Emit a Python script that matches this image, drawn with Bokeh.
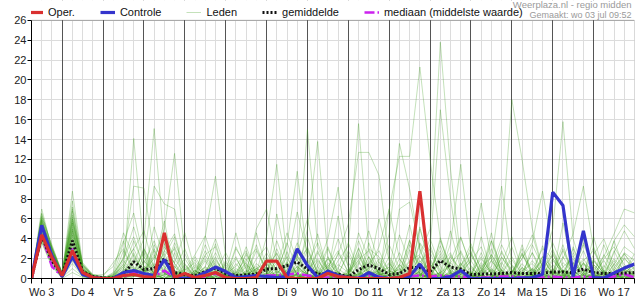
from bokeh.plotting import figure
from bokeh.models import (Range1d, FixedTicker, SingleIntervalTicker, Grid, Legend,
                          LegendItem, Label, ColumnDataSource, BoxAnnotation)
from bokeh.embed import file_html
from bokeh.resources import INLINE

# 6-hourly steps, step 0 = wo 3 jul 06:00, last step = do 18 jul 00:00
DAYS = ["Wo 3", "Do 4", "Vr 5", "Za 6", "Zo 7", "Ma 8", "Di 9", "Wo 10",
        "Do 11", "Vr 12", "Za 13", "Zo 14", "Ma 15", "Di 16", "Wo 17"]
STEPS_PER_DAY = 4
FIRST_MIDNIGHT = 3   # step of do 4 00:00
Y_TICKS = list(range(0, 27, 2))
Y_MAX = 26

OPER = [0, 4.4, 2.1, 0.3, 2.8, 0.6, 0.1, 0, 0, 0.3,
        0.4, 0.2, 0.1, 4.6, 0.1, 0.5, 0.1, 0.3, 0.6, 0.1,
        0, 0, 0.1, 1.75, 1.75, 0.1, 0, 0, 0, 0.5,
        0.2, 0.1, 0, 0, 0, 0, 0.1, 0.5, 8.8, 0]

CONTROLE = [0, 5.35, 2.3, 0.2, 2.2, 0.4, 0.1, 0, 0, 0.6,
            0.8, 0.5, 0.3, 1.9, 0.1, 0, 0.1, 0.6, 1.15, 0.7,
            0.1, 0.2, 0.3, 0.2, 0.1, 0.2, 3.0, 1.3, 0.1, 0.75,
            0.3, 0.1, 0, 0.6, 0.1, 0, 0, 0.2, 1.45, 0,
            0, 0.2, 0.8, 0, 0, 0, 0, 0, 0.05, 0.1,
            0.4, 8.7, 7.35, 0.2, 4.8, 0.1, 0.05, 0.55, 1.05, 1.45]

GEMIDDELDE = [0, 4.3, 1.8, 0.3, 3.8, 0.7, 0.2, 0.05, 0.05, 0.4,
              1.7, 0.9, 1.0, 2.0, 0.6, 0.4, 0.3, 0.7, 1.05, 0.5,
              0.3, 0.35, 0.45, 0.95, 1.0, 1.3, 1.65, 0.95, 0.45, 0.5,
              0.45, 0.15, 0.9, 1.35, 1.0, 0.4, 0.5, 1.1, 1.1, 0.7,
              1.8, 1.15, 0.95, 0.4, 0.45, 0.45, 0.5, 0.6, 0.5, 0.5,
              0.55, 0.65, 0.65, 0.6, 0.95, 0.6, 0.5, 0.5, 0.55, 0.6]

MEDIAAN = [0, 4.4, 1.2, 0.2, 3.0, 0.4, 0.05, 0, 0, 0.1,
           0.7, 0.2, 0.2, 0.8, 0.1, 0.05, 0.05, 0.2, 0.5, 0.1,
           0, 0.05, 0.1, 0.3, 0.3, 0.4, 0.5, 0.3, 0.1, 0.1,
           0.1, 0, 0.1, 0.3, 0.2, 0.05, 0.1, 0.2, 0.3, 0.2,
           0.3, 0.2, 0.2, 0.05, 0.1, 0.1, 0.2, 0.2, 0.1, 0.1,
           0.1, 0.2, 0.1, 0.1, 0.2, 0.1, 0.1, 0.2, 0.45, 0.1]

LEDEN = [
    [0, 4.6, 2.2, 0.3, 3.0, 0.4, 0.1, 0, 0, 0.8, 14.1, 3.0, 1.2, 2.5, 0.4, 0.2, 0, 0.6, 1.8,
     0.5, 0, 0, 0.3, 1.2, 2.5, 0.4, 0, 0, 0.8, 3.2, 0.5, 0, 0, 1.5, 2.8, 0.6, 0, 0.2, 1.0,
     0, 0.4, 2.2, 0.8, 0, 0, 0.5, 1.6, 0.3, 0, 0, 0.9, 2.4, 0.6, 0, 0, 0.5, 1.8, 0.3, 0, 0.2],
    [0, 5.8, 2.6, 0.4, 5.2, 1.0, 0.2, 0, 0.1, 0.3, 1.6, 4.0, 15.1, 3.5, 0.6, 0, 0.3, 1.1, 0.4,
     0, 0.6, 2.0, 0.2, 0, 0, 0.9, 3.6, 1.0, 0.2, 0, 0, 0.4, 2.6, 0.3, 0, 0, 1.4, 0.5, 0,
     3.0, 0.8, 0, 0.2, 0.6, 2.2, 0.4, 0, 0, 0.8, 1.5, 0.3, 0, 0, 0.6, 2.8, 0.4, 0, 0, 1.2, 0.5],
    [0, 4.2, 1.8, 0.2, 2.4, 0.3, 0, 0, 0, 1.5, 3.0, 0.8, 2.0, 5.0, 12.6, 2.5, 0.4, 0, 0.3,
     1.4, 0.2, 0, 0, 0.6, 1.8, 0.5, 0.9, 4.2, 0.6, 0, 0.3, 0, 0.5, 0, 1.7, 0.3, 0, 2.9, 0.4,
     0, 0, 0.7, 4.1, 1.3, 0, 0, 0.5, 1.9, 0.4, 0, 0, 0.7, 3.4, 0.2, 0, 0, 0.6, 2.0, 0.8, 0],
    [0, 6.5, 3.2, 0.6, 7.2, 1.2, 0.3, 0.1, 0, 2.2, 9.3, 9.1, 2.4, 0.5, 0, 0, 0.8, 0.2, 3.5,
     0.4, 0, 0.7, 1.2, 0, 0.3, 0, 0.5, 2.0, 0.4, 1.2, 0, 0, 3.1, 0.6, 0, 1.5, 0.2, 0, 0.6,
     0, 2.5, 0.3, 0, 0.2, 0, 3.8, 0.6, 0, 0.4, 0.9, 0, 0.3, 0, 1.3, 4.0, 0.8, 0, 0.4, 0, 0.6],
    [0, 5.0, 2.0, 0.1, 4.0, 0.6, 0.1, 0, 0.2, 0, 0.7, 1.5, 3.8, 1.0, 0.2, 0.6, 0, 4.2, 10.3,
     2.2, 0.3, 0, 0.4, 1.6, 0, 0.2, 2.4, 0.3, 0, 0, 1.0, 3.6, 0.8, 0, 0, 0.4, 0.9, 0, 0.3,
     1.8, 0, 0, 0.6, 0, 1.1, 0.2, 0, 0.5, 2.6, 0.4, 0, 0, 0.8, 0, 0.4, 1.4, 0.3, 0, 2.1, 0.8],
    [0, 3.8, 1.5, 0, 1.8, 0.2, 0, 0, 0, 0.4, 2.4, 0.5, 0.2, 1.6, 0.7, 0, 0, 0.9, 0.2,
     0, 1.5, 0.3, 0.6, 4.2, 11.5, 2.0, 0.5, 0, 0.6, 1.4, 0, 0.2, 0, 0.8, 0.3, 0, 0.3, 1.7, 0,
     0.5, 0, 0, 1.3, 2.7, 0.4, 0, 0, 0, 0, 0.6, 1.2, 0.4, 0, 0, 0.5, 3.2, 0.6, 0, 0, 0.3],
    [0, 5.3, 2.9, 0.5, 6.0, 1.4, 0.4, 0.2, 0, 0.6, 1.2, 0.2, 0, 2.8, 4.5, 0.7, 0, 0, 1.1,
     0.3, 0, 2.6, 0.4, 0, 0.8, 3.4, 10.8, 1.8, 0.2, 0, 0, 0.6, 1.8, 0, 0.4, 0, 0, 0.5, 2.3,
     0.2, 0.6, 4.8, 0.9, 0, 0.3, 0, 0, 1.0, 0, 0.3, 3.3, 0.5, 0, 0.8, 0, 0, 2.4, 0.7, 0, 0],
    [0, 4.0, 2.0, 0.2, 2.0, 0.3, 0, 0, 0.3, 1.0, 0.2, 2.2, 0.4, 0, 0.8, 0.2, 1.9, 0.3, 0,
     0, 0, 0.4, 1.0, 0.3, 3.0, 0.6, 2.0, 15.0, 3.2, 0.8, 0, 0, 0.4, 1.6, 0.5, 0, 0.2, 0, 3.5,
     0.8, 0, 0.5, 0, 0, 1.2, 2.1, 0.3, 0, 0, 0.4, 0, 1.8, 0.6, 0, 0.3, 0, 0, 1.1, 2.5, 1.2],
    [0, 6.0, 3.0, 0.4, 8.8, 1.5, 0.3, 0, 0, 0, 0.5, 0.3, 1.4, 0.5, 0, 0, 0.4, 0, 0.6,
     1.2, 0.3, 0.5, 0, 0, 0.6, 1.2, 0.4, 5.0, 13.8, 2.2, 0.6, 0, 0, 0.3, 0.8, 1.1, 0, 0, 0.4,
     0, 2.0, 0.8, 0, 0.4, 0, 1.0, 0, 0.6, 0.2, 0, 1.6, 0, 0.4, 3.0, 0.6, 0, 0.8, 0, 0.4, 1.6],
    [0, 4.4, 1.6, 0.1, 3.5, 0.5, 0.1, 0, 0.1, 2.8, 0.6, 0, 0.8, 3.2, 1.5, 0, 0.2, 1.8, 0.2,
     0.4, 2.2, 0, 0, 0.5, 0, 2.7, 0.3, 0, 1.2, 4.0, 9.2, 1.6, 0, 0, 0.3, 0.8, 0.3, 0, 0,
     0.2, 0, 1.6, 2.6, 0.3, 0, 0.2, 0.8, 0, 1.5, 0.3, 0, 0, 0.2, 0, 1.4, 0.4, 0, 0.5, 0, 0],
    [0, 5.5, 2.3, 0.3, 4.8, 0.8, 0.2, 0, 0, 0.2, 1.0, 0.4, 2.8, 1.2, 0.3, 1.0, 0.2, 0, 0.6,
     0, 0, 1.2, 0.3, 0, 2.1, 0.5, 0, 0.9, 0.2, 0, 1.8, 3.3, 15.6, 3.0, 0.4, 0, 0.6, 0, 0.7,
     1.5, 0.2, 0, 0, 0, 0.8, 2.4, 0.5, 0, 0, 1.0, 0.3, 2.0, 0.3, 0, 0, 0.6, 0, 1.5, 0.4, 0],
    [0, 4.9, 2.7, 0.3, 5.6, 0.9, 0.2, 0, 0, 0.9, 3.8, 1.2, 0.6, 0.2, 0, 0, 0.6, 2.3, 0.8,
     0, 0.4, 0, 1.5, 0.6, 0, 0.3, 0, 1.2, 0, 0.6, 2.4, 5.5, 12.7, 12.7, 10.4, 2.0, 0.3, 0, 0.2,
     0, 0.6, 1.3, 0, 0.5, 0, 0, 2.1, 0.8, 0, 0.3, 0, 0, 1.2, 0.2, 0, 0.4, 0, 0, 0.9, 2.0],
    [0, 3.6, 1.2, 0, 0.6, 0.1, 0, 0, 0.2, 0.5, 0.8, 2.6, 0.3, 0, 0.4, 0.3, 0, 0.5, 2.6,
     0.6, 0, 0, 0.2, 2.2, 0.4, 0, 1.6, 0.5, 0, 2.0, 0.4, 0, 0, 0.3, 0.8, 4.5, 13.6, 9.0, 3.0,
     0, 0.4, 0, 1.5, 0.2, 2.6, 0.4, 0, 0, 0, 0.7, 1.8, 0.6, 0, 0.2, 0, 1.8, 0.5, 0, 0.3, 0.5],
    [0, 5.1, 2.1, 0.2, 4.2, 0.7, 0.1, 0, 0, 0, 0.4, 0.9, 0.2, 1.8, 3.0, 0.4, 0, 0.2, 0,
     0, 1.0, 0.4, 0, 0.3, 1.6, 0, 0.5, 2.8, 0.6, 0, 0, 0.5, 2.2, 0.4, 0, 7.0, 12.3, 12.3, 21.3,
     12.0, 4.0, 0.6, 0, 1.2, 0, 0.5, 0.9, 0, 2.5, 0.3, 0, 0, 0.4, 0, 1.6, 0.2, 0, 0.9, 0.3, 0],
    [0, 6.2, 3.4, 0.5, 6.8, 1.1, 0.2, 0, 0.4, 1.2, 0.3, 0, 1.0, 4.0, 0.8, 0, 0.3, 0.8, 0,
     0.4, 0, 0.3, 2.8, 0.8, 0, 0, 0.4, 1.4, 0.2, 0, 0.7, 0, 0.3, 2.2, 0.5, 0, 0.6, 1.8, 2.4,
     5.0, 23.8, 11.0, 2.0, 0, 0.6, 1.8, 0.4, 0, 0, 0.5, 2.2, 0.4, 0.8, 0, 0, 0, 1.3, 0.4, 0, 0.8],
    [0, 4.7, 2.5, 0.3, 3.8, 0.6, 0.1, 0, 0, 0.3, 1.8, 0.6, 0, 0.4, 1.2, 0, 0.5, 2.0, 0.6,
     0, 0, 0.8, 0.3, 1.0, 0.2, 0, 0, 0.6, 2.8, 0.5, 0, 0, 0, 1.2, 0.3, 0.8, 0, 0.4, 1.6,
     3.0, 17.0, 8.0, 1.2, 0, 0.3, 0, 0.6, 2.2, 0.4, 0, 0, 0.8, 0, 1.6, 0.4, 0, 0, 0.3, 1.0, 0.3],
    [0, 5.4, 2.8, 0.4, 5.8, 1.3, 0.3, 0.1, 0, 0, 0.9, 0.3, 0, 0.6, 0.2, 1.4, 0.3, 0, 0.8,
     0, 0.3, 1.6, 0, 0, 0.7, 0.2, 0.4, 0, 0, 1.6, 0.5, 2.4, 0.4, 0, 0, 0.3, 1.0, 0, 0.8,
     0, 0.5, 3.5, 11.5, 2.6, 0.3, 0, 0.4, 0, 1.1, 0.3, 0, 0, 0.6, 2.3, 0, 0.7, 0.2, 0, 0.6, 0],
    [0, 4.1, 1.9, 0.2, 2.6, 0.4, 0, 0, 0.2, 0.7, 0.2, 1.8, 0.5, 0, 0, 0.3, 0, 1.2, 0.4,
     0, 0.6, 0, 0.2, 0.8, 0, 1.4, 0.2, 0, 0.5, 0, 0, 1.0, 0, 0.4, 2.0, 0.2, 0, 0.8, 0.3,
     0, 0, 0.4, 1.0, 2.0, 7.6, 1.8, 9.3, 1.4, 0.2, 0, 0.5, 0, 0, 1.0, 0.3, 0, 0.6, 0, 2.5, 0.9],
    [0, 5.9, 2.4, 0.3, 6.4, 1.0, 0.2, 0, 0, 0.5, 0, 0, 1.5, 0.6, 0, 0.2, 0, 0, 1.4,
     0.2, 0, 0.5, 0.8, 0, 0, 0.6, 1.9, 0.4, 0, 0, 0.3, 0, 1.6, 0.2, 0, 0.6, 0, 0, 0.3,
     0.8, 0, 0.2, 0, 0, 0.4, 1.2, 4.0, 18.0, 12.0, 5.0, 1.0, 0, 0.3, 0.8, 0, 0.4, 0, 0, 1.2, 0.5],
    [0, 4.5, 2.2, 0.2, 3.4, 0.5, 0.1, 0, 0.1, 0, 0.6, 1.0, 0, 0, 0.5, 0, 0.8, 0.3, 0,
     1.8, 0.2, 0, 0.4, 0, 0.4, 2.2, 0.3, 0, 0.3, 0.8, 0, 0.4, 0, 0, 0.6, 0, 2.0, 0.3, 0,
     0.5, 0, 0.8, 0.2, 0, 1.4, 0, 0.3, 0.6, 2.0, 3.6, 8.8, 2.8, 0.4, 0, 0, 0, 0.3, 1.8, 0.5, 0],
    [0, 7.0, 3.0, 0.5, 7.8, 1.4, 0.3, 0, 0, 0.2, 0.4, 0.2, 0.6, 0, 0, 0, 0.2, 0.4, 0,
     0.3, 0, 0, 0.6, 0, 0, 0.3, 0.8, 0.5, 0, 0.2, 0, 0, 0, 0.6, 0.2, 1.2, 0.3, 0, 0,
     0, 0.3, 0, 0.4, 1.8, 0.2, 0, 0, 0.3, 0, 0, 1.4, 5.0, 15.8, 4.0, 0.6, 0, 0.2, 0.5, 0, 0.4],
    [0, 4.3, 2.0, 0.1, 2.9, 0.4, 0, 0, 0, 0.1, 0.3, 0, 0.2, 0.8, 0, 0, 0.4, 0, 0.2,
     0, 0, 0.3, 0.4, 0.2, 0, 0, 0.3, 0, 0.2, 0, 0.5, 0, 0.8, 0, 0, 0.3, 0, 0.2, 0,
     0.6, 0, 0, 0.3, 0, 0.8, 0.2, 0, 0, 0.3, 1.0, 0, 0.5, 2.0, 4.5, 9.3, 3.0, 0.4, 0, 0.2, 0],
    [0, 5.2, 2.5, 0.3, 4.6, 0.8, 0.2, 0, 0, 0.3, 0.2, 0.5, 0.3, 0, 0.2, 0, 0, 0.3, 0.8,
     0.2, 0, 0, 0.1, 0.5, 0.3, 0, 0, 0.3, 0, 0, 0.2, 0.6, 0, 0.3, 0.9, 0, 0.2, 0, 0.4,
     0, 0, 0.6, 0.2, 0.4, 0, 0, 0.8, 0, 0.6, 0.3, 0, 1.0, 0, 0.5, 1.5, 0.8, 2.2, 4.5, 7.0, 6.6],
    [0, 5.6, 2.6, 0.4, 4.4, 0.7, 0.1, 0, 0.3, 3.6, 6.6, 2.0, 9.3, 7.5, 7.0, 1.5, 0, 0.4, 1.0,
     0.3, 0, 0.6, 5.0, 7.0, 1.8, 0.3, 0, 0.2, 0.8, 0.3, 0, 0, 0.4, 1.0, 3.2, 7.0, 2.0, 0.6, 0,
     0.5, 3.3, 0.6, 0, 0.3, 0, 1.8, 0.4, 0, 0.5, 2.6, 0.8, 0, 0.3, 0.8, 3.4, 1.2, 0, 0.3, 0, 0.4],
    [0, 4.0, 1.4, 0.1, 1.5, 0.2, 0, 0, 0, 0.6, 2.6, 0.4, 5.2, 2.0, 0.6, 0.8, 2.4, 4.3, 1.2,
     0, 0.3, 2.4, 0.6, 0, 6.5, 1.4, 6.7, 2.5, 0, 0.5, 6.3, 1.0, 0.2, 0, 0.4, 0.6, 7.0, 7.7, 3.0,
     0.2, 0, 0, 1.2, 3.5, 0.8, 0.3, 0, 0, 1.1, 0.4, 0, 2.6, 0, 0, 0.9, 0, 0.5, 3.8, 1.0, 0.2],
    [0, 5.0, 3.2, 0.6, 6.2, 1.0, 0.2, 0, 0.5, 2.0, 4.2, 1.2, 0.4, 3.5, 1.5, 0.3, 0.8, 0, 0.3,
     0.6, 4.6, 0.8, 0, 0.2, 0, 0.8, 2.4, 6.0, 1.2, 0, 0.2, 0, 1.4, 4.8, 1.6, 0.2, 0, 0, 5.0,
     1.4, 0.3, 0, 0.5, 0, 4.2, 0.6, 0, 0.8, 0, 0.3, 2.0, 0.6, 0.3, 0, 0, 1.8, 0.5, 0, 0.5, 1.1],
    [0, 4.8, 2.0, 0.2, 3.2, 0.5, 0.1, 0.2, 0, 0.4, 0.4, 2.9, 0.5, 0, 0.4, 0.1, 1.4, 0.3, 2.2,
     0, 0.3, 0.5, 4.6, 1.0, 0, 1.6, 0.4, 0.3, 0, 2.2, 0, 0.6, 3.0, 0.5, 0, 0, 0.6, 3.8, 0.5,
     0, 0, 2.4, 0.8, 0, 0.3, 4.6, 0.2, 0, 3.4, 0.4, 0, 0, 0.9, 0.2, 0.3, 4.2, 0.6, 0, 0.2, 0],
    [0, 6.1, 2.7, 0.4, 5.0, 0.9, 0.2, 0, 0, 0, 0.2, 0.3, 2.2, 0.6, 1.0, 3.0, 0.4, 0, 0.6,
     0, 0.3, 0.2, 0, 0.4, 0, 0.6, 0, 0.8, 4.5, 0.6, 0, 0.3, 0, 0, 0.7, 0, 1.4, 0.2, 5.2,
     1.0, 0, 0, 0.4, 0.6, 0.2, 0, 0, 1.3, 0, 0.6, 0.4, 0, 5.6, 0.8, 0, 0.3, 0, 2.8, 0.6, 0.3],
    [0, 3.9, 1.7, 0.2, 2.2, 0.3, 0, 0, 0, 1.8, 0.5, 0, 0, 0.8, 3.2, 0.6, 0, 0.4, 0,
     0.2, 3.2, 1.0, 0, 0, 0.4, 0.2, 0.8, 3.2, 0.4, 0, 0.3, 0, 0, 0.7, 6.0, 1.8, 0, 0.3, 0,
     2.6, 0.4, 0, 0, 0.2, 0, 0.9, 0.3, 0, 0.2, 0, 0.6, 3.0, 0.4, 0, 0.3, 0, 0.2, 0, 0.7, 2.5],
    [0, 5.7, 3.0, 0.4, 5.4, 0.8, 0.2, 0, 0.2, 0.5, 0.3, 0.6, 3.0, 0.5, 0, 0, 1.2, 0.4, 0.7,
     0.3, 0, 0, 3.4, 0.5, 0, 0.4, 1.2, 0.3, 0, 0.9, 0.3, 0.4, 1.9, 2.8, 0.4, 0, 0.4, 3.9, 0.8,
     0, 4.1, 1.0, 0, 0.8, 0, 0, 2.8, 0.4, 0, 0.8, 0.2, 0, 0, 1.6, 0.4, 0, 0.8, 0.2, 0.4, 1.5],
    [0, 4.5, 2.4, 0.3, 4.0, 0.9, 0.3, 0.4, 1.2, 3.8, 1.0, 0.5, 2.4, 0.8, 3.6, 1.2, 0.3, 2.8, 0.6,
     0, 3.0, 1.4, 0.2, 2.0, 0.6, 3.6, 1.0, 0.4, 2.6, 0.8, 4.0, 1.2, 0, 2.2, 0.5, 3.4, 1.0, 0.3, 2.2,
     0.6, 3.8, 1.2, 0.4, 2.4, 0.5, 3.0, 0.8, 0.3, 2.0, 4.4, 1.0, 0.6, 2.8, 0.5, 3.6, 1.4, 0.3, 2.6, 4.8, 3.0],
    [0, 5.4, 2.0, 0.2, 5.0, 0.6, 0.1, 0, 0.4, 2.0, 5.2, 1.8, 0.6, 4.4, 2.0, 0.4, 2.2, 0.5, 0,
     1.6, 0.4, 3.2, 0.6, 0, 1.2, 4.6, 1.8, 3.0, 0.5, 0, 2.6, 0.6, 3.8, 1.0, 0, 0.4, 2.6, 0.6, 3.6,
     2.0, 0, 1.6, 0.4, 3.2, 1.0, 0, 1.4, 4.2, 0.8, 0.2, 2.2, 1.0, 0, 3.2, 0.6, 2.4, 4.0, 1.2, 0, 0.8],
    [0, 6.6, 3.0, 0.5, 6.0, 1.6, 0.4, 0.2, 0, 1.2, 3.0, 4.8, 1.0, 0.3, 2.6, 0, 0.6, 3.4, 1.0,
     0.3, 0, 1.8, 3.0, 0.8, 2.6, 0.4, 0, 1.4, 3.6, 0.8, 0.3, 2.8, 0.6, 0, 1.4, 0.3, 4.4, 1.6, 0.5,
     0, 2.2, 0.4, 2.8, 0.6, 0, 2.4, 0.8, 3.2, 0.4, 1.8, 0.5, 0, 1.6, 0.6, 2.0, 0.4, 3.4, 0.8, 2.6, 1.8],
    [0, 4.6, 1.7, 0.2, 3.6, 0.5, 0.1, 0, 0.6, 4.6, 2.2, 0.6, 1.6, 5.8, 0.6, 2.0, 0.4, 1.2, 4.0,
     1.0, 0.2, 0, 2.0, 3.2, 0.5, 1.6, 0.6, 0, 0.6, 2.0, 1.0, 0.2, 4.6, 2.0, 0.6, 1.6, 0, 3.4, 1.2,
     4.0, 1.2, 0, 0.6, 1.8, 3.2, 0.4, 0, 0.6, 2.4, 0.8, 3.0, 2.0, 0.8, 0, 1.6, 0, 2.0, 3.2, 1.4, 0.6],
    [0, 5.1, 2.6, 0.3, 4.8, 1.1, 0.2, 0, 0.2, 0.8, 1.6, 0.4, 3.4, 1.6, 0.3, 0.8, 1.6, 0, 0.6,
     2.6, 0.6, 0, 1.0, 0.4, 3.8, 1.0, 0.2, 0, 1.8, 0.4, 1.4, 0.6, 0, 3.0, 2.2, 0.8, 0.3, 0, 1.8,
     0.6, 1.4, 2.6, 0, 0.4, 2.0, 0.6, 3.4, 1.2, 0, 0.6, 1.0, 3.6, 1.2, 2.0, 0.4, 0.8, 0, 1.4, 3.2, 2.4],
    [0, 3.7, 1.3, 0.1, 1.0, 0.2, 0, 0, 0.3, 1.4, 0.6, 3.0, 0.8, 0.2, 1.2, 0.3, 0, 2.4, 3.2,
     0.5, 1.2, 2.8, 0.3, 0, 0.4, 0.2, 3.0, 1.6, 0.2, 3.0, 0.6, 0, 0.5, 1.8, 0.3, 2.2, 0.6, 0, 0.8,
     3.4, 0.5, 0, 1.6, 0.2, 0.8, 3.8, 1.2, 0, 0.6, 2.6, 0.2, 0.4, 3.0, 0.6, 1.8, 2.8, 0.6, 0, 0.9, 0.4],
    [0, 5.9, 2.9, 0.4, 7.0, 1.3, 0.3, 0, 0, 0.3, 2.0, 0.8, 0.2, 2.2, 4.2, 0.6, 0, 0.8, 2.0,
     0.3, 0, 1.4, 0.6, 2.6, 0.8, 0, 1.2, 0.4, 0, 1.2, 2.8, 0.6, 2.4, 0.4, 0, 0, 1.2, 5.4, 1.0,
     0.4, 0, 1.8, 4.2, 1.0, 0.3, 0, 2.2, 0.5, 3.0, 0.6, 0, 1.4, 0, 2.6, 0.8, 0, 1.0, 3.8, 5.4, 4.2],
    [0, 4.9, 2.3, 0.3, 2.2, 0.4, 0.1, 0.2, 1.6, 3.0, 0.8, 0, 0.6, 2.8, 1.6, 4.6, 0.8, 0, 0.5,
     0, 2.0, 0.4, 1.0, 1.6, 0, 0.5, 2.2, 0.8, 2.0, 0.3, 0, 0.4, 0, 3.6, 0.8, 0, 0.6, 1.4, 0.4,
     1.0, 2.8, 0.6, 0, 0, 1.6, 0.5, 2.6, 0.8, 0, 3.4, 1.2, 0.3, 2.2, 0.4, 0, 2.0, 0.4, 0.6, 2.0, 1.0],
    [0, 5.3, 2.2, 0.2, 4.4, 0.8, 0.2, 0, 0, 0.5, 0.2, 1.2, 0.3, 0, 0.6, 0.2, 0, 0.4, 1.6,
     0, 0.8, 0, 0.3, 1.0, 0.2, 0, 0.4, 0, 0.5, 0.2, 0, 0.8, 0.3, 0, 0.6, 0, 0.2, 1.0, 0.3,
     0.2, 0.6, 0, 0.4, 0, 0.3, 0.8, 0, 0.4, 0, 0.2, 0.6, 0, 0.8, 0.3, 0, 0.3, 0, 0.6, 0.8, 0.4],
    [0, 6.3, 3.1, 0.5, 5.6, 1.2, 0.3, 0, 0.1, 0.4, 0.3, 0.6, 0, 0.4, 0.2, 0, 0.3, 0.6, 0,
     0.2, 0, 0.4, 0.6, 0, 0.3, 0.6, 0.2, 0, 0.2, 0, 0.5, 0, 0.6, 0.2, 0, 0.4, 0, 0.3, 0.6,
     0, 0.2, 0.5, 0, 0.6, 0, 0.2, 0.3, 0, 0.5, 0.2, 0, 0.3, 0, 0.6, 0.4, 0, 0.3, 0.5, 0.2, 0],
]

FONT = "Arial"
n_steps = len(CONTROLE)
steps = list(range(n_steps))
PX_PER_UNIT = 10
TOP_BAND = 20          # pixels above the value area for legend and credits
y_top = Y_MAX + TOP_BAND / PX_PER_UNIT

p = figure(width=635, height=300, x_range=Range1d(0, n_steps - 1), y_range=Range1d(0, y_top),
           output_backend="svg", toolbar_location=None,
           min_border_left=31, min_border_right=1, min_border_top=0, min_border_bottom=20)
p.background_fill_color = "white"
p.border_fill_color = "white"
p.outline_line_color = None

# grids
p.xgrid.ticker = SingleIntervalTicker(interval=1)
p.xgrid.grid_line_color = "#dcdcdc"
p.ygrid.ticker = FixedTicker(ticks=Y_TICKS)
p.ygrid.grid_line_color = "#dcdcdc"
midnights = list(range(FIRST_MIDNIGHT, n_steps - 1, STEPS_PER_DAY))
p.add_layout(Grid(dimension=0, ticker=FixedTicker(ticks=midnights),
                  grid_line_color="#555555", grid_line_width=1))
# white band above the value area (hides grid there)
p.add_layout(BoxAnnotation(bottom=Y_MAX, fill_color="white", fill_alpha=1,
                           line_alpha=0, level="underlay"))
# black frame around the value area
p.add_layout(BoxAnnotation(bottom=0, top=Y_MAX, fill_alpha=0, line_color="black",
                           line_width=1, level="overlay"))

# axes
noon_steps = [FIRST_MIDNIGHT - 2 + STEPS_PER_DAY * k for k in range(len(DAYS))]
xa = p.xaxis[0]
xa.ticker = FixedTicker(ticks=noon_steps, minor_ticks=steps)
xa.major_label_overrides = {s: d for s, d in zip(noon_steps, DAYS)}
xa.major_tick_in = 0
xa.major_tick_out = 5
xa.minor_tick_in = 0
xa.minor_tick_out = 5
xa.major_tick_line_color = None
xa.minor_tick_line_color = "black"
xa.axis_line_color = "black"
xa.major_label_standoff = 2
xa.major_label_text_font = FONT
xa.major_label_text_font_size = "11px"
xa.major_label_text_color = "#222222"

ya = p.yaxis[0]
ya.ticker = FixedTicker(ticks=Y_TICKS)
ya.bounds = (0, Y_MAX)
ya.major_tick_in = 0
ya.major_tick_out = 4
ya.minor_tick_line_color = None
ya.axis_line_color = "black"
ya.major_label_standoff = 1
ya.major_label_text_font = FONT
ya.major_label_text_font_size = "11px"
ya.major_label_text_color = "#222222"

# series
src = ColumnDataSource(dict(xs=[steps] * len(LEDEN), ys=LEDEN))
r_leden = p.multi_line("xs", "ys", source=src, line_color="#3c9a1c", line_alpha=0.3, line_width=1)
r_med = p.line(steps, MEDIAAN, line_color="#cc22ee", line_width=2.5, line_dash="10 3 2 3")
r_gem = p.line(steps, GEMIDDELDE, line_color="#111111", line_width=3, line_dash="2 2")
r_con = p.line(steps, CONTROLE, line_color="#3434cc", line_width=3.2)
r_oper = p.line(list(range(len(OPER))), OPER, line_color="#d93030", line_width=3.2)

legend = Legend(items=[
    LegendItem(label="Oper.", renderers=[r_oper]),
    LegendItem(label="Controle", renderers=[r_con]),
    LegendItem(label="Leden", renderers=[r_leden]),
    LegendItem(label="gemiddelde", renderers=[r_gem]),
    LegendItem(label="mediaan (middelste waarde)", renderers=[r_med]),
], orientation="horizontal", location=(-3, 260), glyph_width=15, glyph_height=12,
    label_standoff=5, spacing=25, padding=0, margin=0, label_height=12,
    border_line_alpha=0, background_fill_alpha=0,
    label_text_font=FONT, label_text_font_size="11px", label_text_color="#111111")
p.add_layout(legend)

p.add_layout(Label(x=600, y=274, x_units="screen", y_units="screen",
                   text="Weerplaza.nl - regio midden", text_align="right",
                   text_baseline="middle", text_font=FONT, text_font_size="9.5px",
                   text_color="#9a9a9a"))
p.add_layout(Label(x=600, y=264, x_units="screen", y_units="screen",
                   text="Gemaakt: wo 03 jul 09:52", text_align="right",
                   text_baseline="middle", text_font=FONT, text_font_size="9px",
                   text_color="#9a9a9a"))

open("out.html", "w").write(file_html(p, INLINE))
